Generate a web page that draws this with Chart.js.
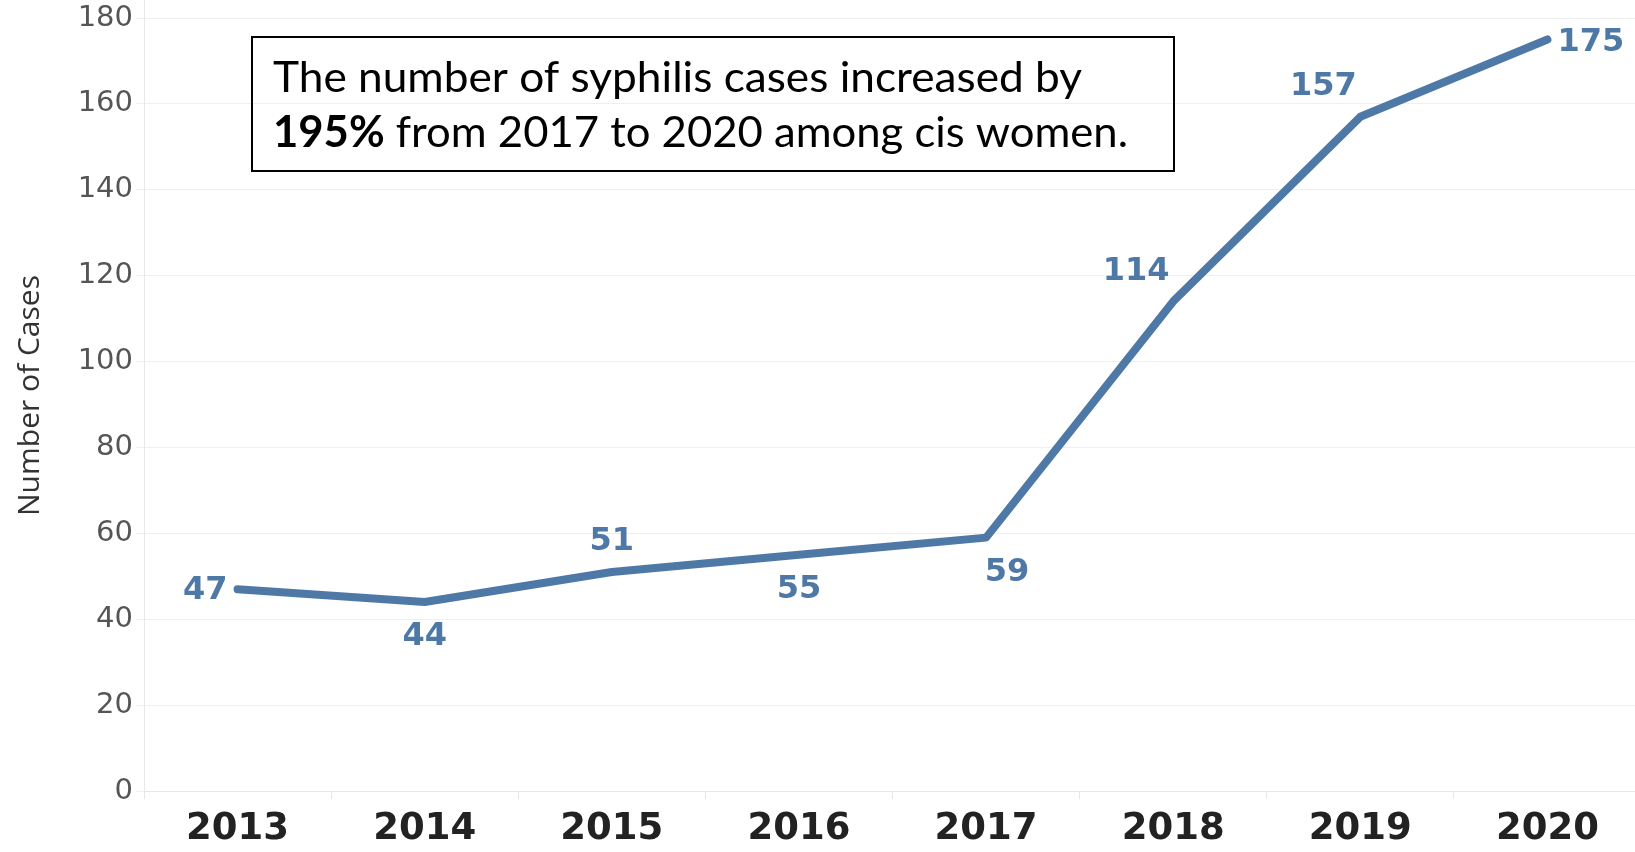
<!DOCTYPE html>
<html>
<head>
<meta charset="utf-8">
<script src="https://cdn.jsdelivr.net/npm/chart.js@4/dist/chart.umd.min.js"></script>
<style>
  html, body { margin: 0; padding: 0; background: #ffffff; overflow: hidden; }
  #wrap { width: 1641px; height: 852px; }
</style>
</head>
<body>
<div id="wrap"><canvas id="c" width="1641" height="852"></canvas></div>
<script>
// ---- data ----
const years = ['2013', '2014', '2015', '2016', '2017', '2018', '2019', '2020'];
const cases = [47, 44, 51, 55, 59, 114, 157, 175];
const yTicks = [0, 20, 40, 60, 80, 100, 120, 140, 160, 180];
const yAxisTitle = 'Number of Cases';
const noteLine1 = 'The number of syphilis cases increased by';
const noteBold = '195%';
const noteLine2 = ' from 2017 to 2020 among cis women.';

// ---- label placement (style, not data) ----
const labelPlacement = ['left', 'below', 'above', 'below', 'belowRight', 'aboveLeft', 'aboveLeft', 'right'];

const LINE_COLOR = '#4E79A7';

const dataLabels = {
  id: 'dataLabels',
  afterDatasetsDraw(chart) {
    const ctx = chart.ctx;
    const meta = chart.getDatasetMeta(0);
    ctx.save();
    ctx.font = 'bold 32px "DejaVu Sans"';
    ctx.fillStyle = LINE_COLOR;
    ctx.textBaseline = 'middle';
    meta.data.forEach((pt, i) => {
      const v = chart.data.datasets[0].data[i];
      const p = labelPlacement[i];
      let x = pt.x, y = pt.y, align = 'center';
      if (p === 'left') { x -= 10; y += 2; align = 'right'; }
      else if (p === 'right') { x += 10; y += 3; align = 'left'; }
      else if (p === 'above') { y -= 30; }
      else if (p === 'below') { y += 35; }
      else if (p === 'belowRight') { x += 21; y += 35; }
      else if (p === 'aboveLeft') { x -= 37; y -= 30; }
      ctx.textAlign = align;
      ctx.fillText(String(v), x, y);
    });
    ctx.restore();
  }
};

const noteBox = {
  id: 'noteBox',
  afterDraw(chart) {
    const ctx = chart.ctx;
    ctx.save();
    ctx.strokeStyle = '#000000';
    ctx.lineWidth = 2;
    ctx.strokeRect(252, 37, 922, 134);
    const size = 43;
    ctx.fillStyle = '#000000';
    ctx.textBaseline = 'alphabetic';
    ctx.textAlign = 'left';
    // line 1
    ctx.font = size + 'px Lato';
    const w1 = ctx.measureText(noteLine1).width;
    ctx.save();
    ctx.translate(273, 0);
    ctx.scale(809 / w1, 1);
    ctx.fillText(noteLine1, 0, 92);
    ctx.restore();
    // line 2
    ctx.font = 'bold ' + size + 'px Lato';
    const wb = ctx.measureText(noteBold).width;
    ctx.font = size + 'px Lato';
    const wr = ctx.measureText(noteLine2).width;
    ctx.save();
    ctx.translate(273, 0);
    ctx.scale(855 / (wb + wr), 1);
    ctx.font = 'bold ' + size + 'px Lato';
    ctx.fillText(noteBold, 0, 147);
    ctx.font = size + 'px Lato';
    ctx.fillText(noteLine2, wb, 147);
    ctx.restore();
    ctx.restore();
  }
};

new Chart(document.getElementById('c'), {
  type: 'line',
  data: {
    labels: years,
    datasets: [{
      data: cases,
      borderColor: LINE_COLOR,
      borderWidth: 8,
      borderCapStyle: 'round',
      borderJoinStyle: 'round',
      pointRadius: 0,
      pointHoverRadius: 0,
      tension: 0,
      fill: false
    }]
  },
  options: {
    responsive: false,
    animation: false,
    events: [],
    layout: { padding: 0 },
    plugins: { legend: { display: false }, tooltip: { enabled: false } },
    scales: {
      x: {
        type: 'category',
        offset: true,
        afterFit(s) { s.height = 61; },
        grid: { offset: true, drawOnChartArea: false, drawTicks: true, tickLength: 8, color: '#e6e6e6', lineWidth: 1 },
        border: { display: true, color: '#e6e6e6', width: 1 },
        ticks: {
          color: '#222222',
          font: { family: 'DejaVu Sans', size: 37, weight: 'bold' },
          padding: 8,
          maxRotation: 0,
          autoSkip: false
        }
      },
      y: {
        min: 0,
        max: 184.2,
        afterFit(s) { s.width = 144; s.paddingTop = 0; s.paddingBottom = 0; },
        afterBuildTicks(s) { s.ticks = yTicks.map(v => ({ value: v })); },
        grid: { color: '#efefef', lineWidth: 1, drawTicks: true, tickLength: 8 },
        border: { display: true, color: '#e8e8e8', width: 1 },
        ticks: {
          color: '#555555',
          font: { family: 'DejaVu Sans', size: 29 },
          padding: 3,
          includeBounds: false
        },
        title: {
          display: true,
          text: yAxisTitle,
          color: '#333333',
          font: { family: 'Open Sans', size: 30 },
          padding: { top: 12, bottom: 0 }
        }
      }
    }
  },
  plugins: [dataLabels, noteBox]
});
</script>
</body>
</html>
